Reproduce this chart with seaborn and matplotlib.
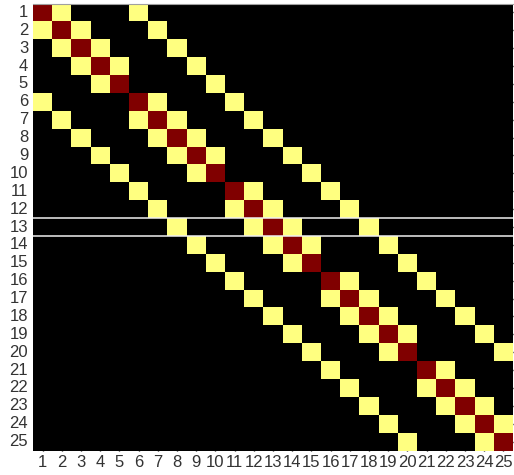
import numpy as np
import pandas as pd
import matplotlib
matplotlib.use("Agg")
import matplotlib.pyplot as plt
from matplotlib.colors import ListedColormap
import seaborn as sns

# Node labels (1..25)
nodes = list(range(1, 26))
tick_labels = [str(n) for n in nodes]

# Yellow cells: neighbours of each node (row -> columns)
neighbour_cols = [
    [2, 6], [1, 3, 7], [2, 4, 8], [3, 5, 9], [4, 10],
    [1, 7, 11], [2, 6, 8, 12], [3, 7, 9, 13], [4, 8, 10, 14], [5, 9, 15],
    [6, 12, 16], [7, 11, 13, 17], [8, 12, 14, 18], [9, 13, 15, 19], [10, 14, 20],
    [11, 17, 21], [12, 16, 18, 22], [13, 17, 19, 23], [14, 18, 20, 24], [15, 19, 25],
    [16, 22], [17, 21, 23], [18, 22, 24], [19, 23, 25], [20, 24],
]
# Dark red cells: the node itself
self_cols = nodes
# Highlighted row
highlight_row = 13

mat = np.zeros((25, 25))
for i, cols in enumerate(neighbour_cols):
    for c in cols:
        mat[i, c - 1] = 1
for i, c in enumerate(self_cols):
    mat[i, c - 1] = 2
df = pd.DataFrame(mat, index=tick_labels, columns=tick_labels)

sns.set_theme(style="white")
plt.rcParams['font.family'] = ['Liberation Sans', 'DejaVu Sans']

fig = plt.figure(figsize=(5.14, 4.75), dpi=100)
ax = fig.add_axes([33 / 514, (475 - 450.5) / 475, 480 / 514, 447 / 475])
cmap = ListedColormap(["#000000", "#ffff80", "#800000"])
sns.heatmap(df, ax=ax, cmap=cmap, vmin=-0.5, vmax=2.5, cbar=False,
            xticklabels=tick_labels, yticklabels=tick_labels,
            linewidths=0)

ax.axhline(highlight_row - 1, color="#f0f0f0", lw=1.1)
ax.axhline(highlight_row, color="#f0f0f0", lw=1.1)

ax.tick_params(direction="in", length=4, width=1, color="black",
               top=True, right=True, bottom=True, left=True,
               labelsize=12, labelcolor="#333333", pad=3.5)
plt.setp(ax.get_yticklabels(), rotation=0)
plt.setp(ax.get_xticklabels(), rotation=0)
for s in ["left", "right", "bottom"]:
    ax.spines[s].set_visible(False)
ax.spines["top"].set_visible(True)
ax.spines["top"].set_color("#a0a0a0")
ax.spines["top"].set_linewidth(0.8)

fig.savefig("out.png", dpi=100)
